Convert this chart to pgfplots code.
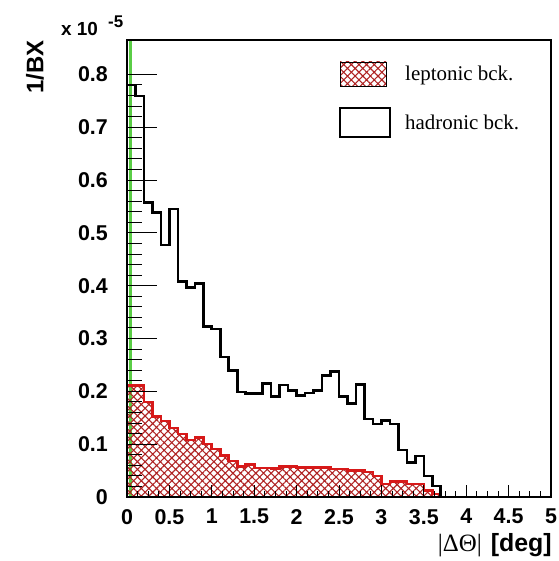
\documentclass[border=0pt]{standalone}
\usepackage{pgfplots}
\pgfplotsset{compat=1.18}
\usepackage{fontspec}
\setmainfont{Liberation Serif}
\setsansfont{Liberation Sans}
\usetikzlibrary{patterns.meta}
\definecolor{histred}{RGB}{215,25,25}
\definecolor{hatchred}{RGB}{175,35,35}
\definecolor{cutgreen}{RGB}{90,205,70}

\begin{document}
\begin{tikzpicture}
\begin{axis}[
  scale only axis, width=424bp, height=457bp,
  xmin=0, xmax=5, ymin=0, ymax=0.865,
  clip=false, axis on top,
  xtick={0,0.5,1,1.5,2,2.5,3,3.5,4,4.5,5},
  ytick={0,0.1,0.2,0.3,0.4,0.5,0.6,0.7,0.8},
  minor x tick num=3, minor y tick num=4,
  tick align=inside, tick pos=left,
  /pgf/number format/assume math mode=true,
  ticklabel style={font=\sffamily\bfseries\fontsize{21.5}{25}\selectfont},
  yticklabel style={inner sep=0pt, xshift=-19bp},
  xticklabel style={inner sep=0pt, yshift=-12bp},
  axis line style={line width=1.4bp},
  every tick/.style={black, line width=0.9bp},
  ytick style={/pgfplots/major tick length=30bp, /pgfplots/minor tick length=15bp},
  xtick style={/pgfplots/major tick length=12bp, /pgfplots/minor tick length=6bp},
  legend style={draw=none, fill=none, inner sep=0pt, at={(rel axis cs:0.5,0.953)}, anchor=north west,
    font=\rmfamily\fontsize{21}{25}\selectfont, row sep=21bp, column sep=12bp},
  legend cell align=left,
]
% legend
\addlegendimage{legend image code/.code={\path[pattern={Hatch[angle=45,distance=5.4bp,line width=1.1bp]},pattern color=hatchred] (0bp,-12bp) rectangle (46bp,12bp);}}
\addlegendentry{leptonic bck.}
\addlegendimage{legend image code/.code={\draw[black,line width=2bp,fill=white] (0bp,-14.5bp) rectangle (50bp,14.5bp);}}
\addlegendentry{hadronic bck.}

% cut line
\addplot[cutgreen, line width=3bp] coordinates {(0.047,0) (0.047,0.865)};

% leptonic
\addplot[const plot, draw=histred, line width=2.6bp,
  pattern={Hatch[angle=45,distance=5.4bp,line width=1.1bp]}, pattern color=hatchred] coordinates {
(0,0.211) (0.1,0.211) (0.2,0.180) (0.3,0.152) (0.4,0.144) (0.5,0.131) (0.6,0.119) (0.7,0.108)
(0.8,0.113) (0.9,0.100) (1.0,0.091) (1.1,0.079) (1.2,0.068) (1.3,0.058) (1.4,0.062) (1.5,0.055)
(1.6,0.055) (1.7,0.054) (1.8,0.058) (1.9,0.058) (2.0,0.056) (2.1,0.056) (2.2,0.056) (2.3,0.056)
(2.4,0.053) (2.5,0.053) (2.6,0.050) (2.7,0.050) (2.8,0.047) (2.9,0.040) (3.0,0.025) (3.1,0.029)
(3.2,0.029) (3.3,0.025) (3.4,0.025) (3.5,0.012) (3.6,0.006) (3.7,0) (5,0)
} \closedcycle;

% hadronic
\addplot[const plot, black, line width=2.6bp] coordinates {
(0,0.780) (0.1,0.759) (0.2,0.557) (0.3,0.538) (0.4,0.477) (0.5,0.545) (0.6,0.408) (0.7,0.397)
(0.8,0.404) (0.9,0.323) (1.0,0.318) (1.1,0.265) (1.2,0.240) (1.3,0.199) (1.4,0.196) (1.5,0.196)
(1.6,0.215) (1.7,0.190) (1.8,0.212) (1.9,0.202) (2.0,0.192) (2.1,0.197) (2.2,0.202) (2.3,0.230)
(2.4,0.237) (2.5,0.190) (2.6,0.177) (2.7,0.213) (2.8,0.148) (2.9,0.138) (3.0,0.145) (3.1,0.138)
(3.2,0.089) (3.3,0.065) (3.4,0.078) (3.5,0.040) (3.6,0.021) (3.7,0)
};

% labels
\node[rotate=90, font=\sffamily\bfseries\fontsize{24}{28}\selectfont] at (rel axis cs:-0.217,0.941) {1/BX};
\node[anchor=base west, inner sep=0pt, font=\sffamily\bfseries\fontsize{19}{22}\selectfont] at (rel axis cs:-0.156,1.0088) {x 10};
\node[anchor=base west, inner sep=0pt, font=\sffamily\bfseries\fontsize{17}{20}\selectfont] at (rel axis cs:-0.0448,1.0284) {-5};
\node[anchor=base east, inner sep=0pt] at (rel axis cs:1.002,-0.1197)
  {{\rmfamily\fontsize{25}{28}\selectfont |ΔΘ|}\hspace{9bp}{\sffamily\bfseries\fontsize{25}{28}\selectfont [deg]}};

% page extent
\path (rel axis cs:-0.2995,-0.140) rectangle (rel axis cs:1.0165,1.0875);
\end{axis}
\end{tikzpicture}
\end{document}
